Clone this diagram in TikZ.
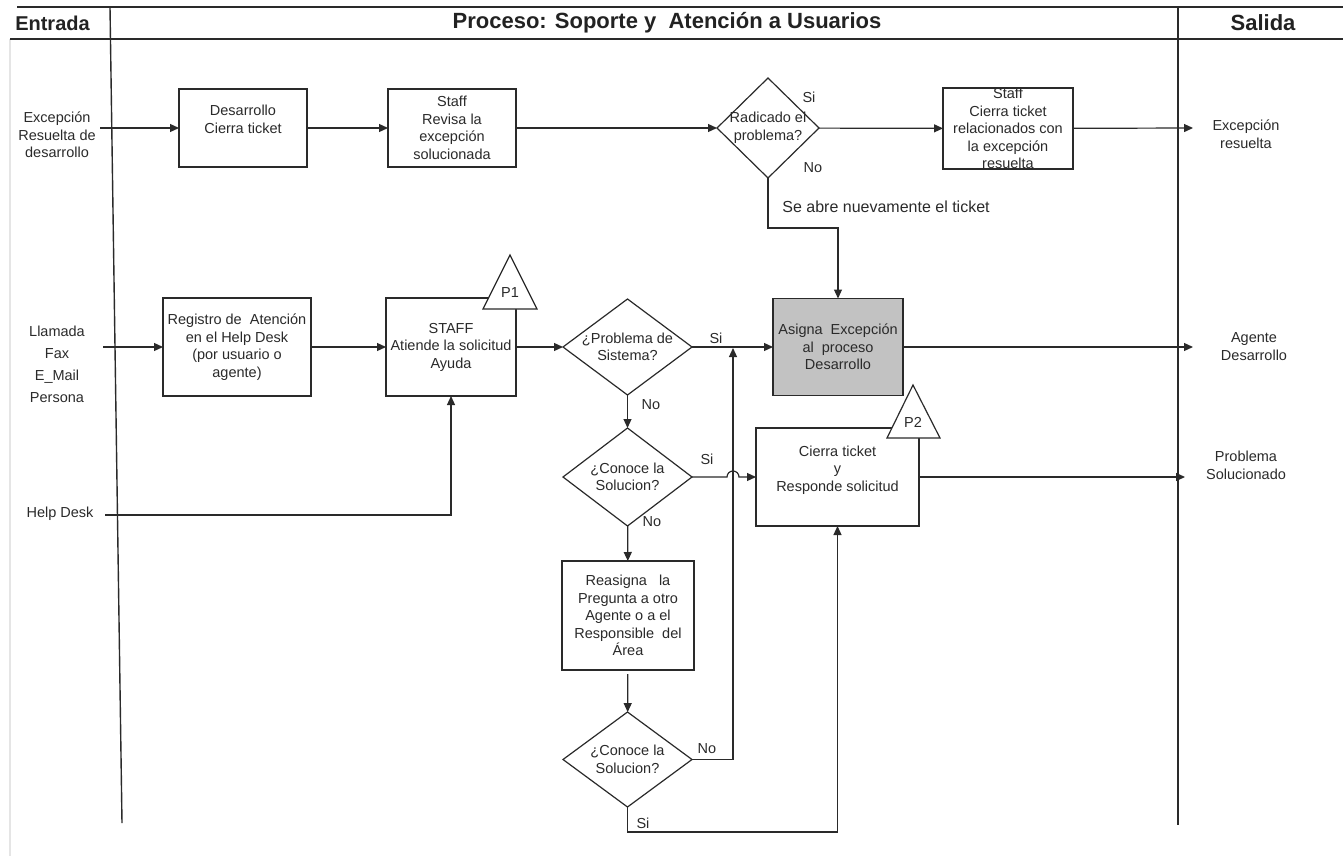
\documentclass[tikz,border=0pt]{standalone}
\usepackage{fontspec}
\setmainfont{Liberation Sans}
\usetikzlibrary{shapes.geometric,arrows.meta}
\definecolor{ink}{HTML}{2A2A2A}
\definecolor{boxgray}{HTML}{C2C2C2}
\begin{document}
\begin{tikzpicture}[x=1pt,y=-1pt,
    every node/.style={font=\fontsize{14.5}{17.5}\selectfont, text=ink, align=center, inner sep=0pt, outer sep=0pt},
    box/.style={draw=ink, line width=1.2pt, fill=white},
    decision/.style={draw=ink, line width=1.2pt, diamond, fill=white},
    arr/.style={draw=ink, line width=1.2pt, -{Triangle[length=9pt,width=8pt]}},
    frame/.style={draw=ink, line width=1.4pt},
    head/.style={font=\fontsize{22}{26}\selectfont\bfseries, text=ink!80!black}]
    \useasboundingbox (0,0) rectangle (1343,856);
    \draw[gray!20, line width=2pt] (10,39) -- (10,856);
    \draw[frame] (17,7) -- (1343,7);
    \draw[frame] (10,39) -- (1343,39);
    \draw[frame] (110,7) -- (122,823);
    \draw[frame] (1178,7) -- (1178,825);
    \node[head, font=\fontsize{20}{24}\selectfont\bfseries] (hin) at (52.5,23) {Entrada};
    \node[head] (hpro) at (667,23) {Proceso: Soporte y\ \ Atención a Usuarios};
    \node[head] (hout) at (1263,23) {Salida};

    \node (inexc) at (57,135) {Excepción\\Resuelta de\\desarrollo};
    \node[font=\fontsize{14.5}{22}\selectfont] (incan) at (57,364) {Llamada\\Fax\\E\_Mail\\Persona};
    \node (inhd) at (60,514) {Help Desk};
    \coordinate (inexca) at (100,128);
    \coordinate (incana) at (103,347);
    \coordinate (inhda) at (105,515);

    \node[box, minimum width=128, minimum height=78] (des) at (243,128) {Desarrollo\\Cierra ticket\\~};
    \node[box, minimum width=128, minimum height=78] (rev) at (452,128) {Staff\\Revisa la\\excepción\\solucionada};
    \node[decision, minimum width=102, minimum height=100] (rad) at (768,128) {};
    \node (radt) at (rad) {Radicado el\\problema?};
    \node[box, minimum width=130, minimum height=81] (cer) at (1008,128.5) {Staff\\Cierra ticket\\relacionados con\\la excepción\\resuelta};

    \node[box, minimum width=148, minimum height=98] (reg) at (237,347) {Registro de\ \ Atención\\en el Help Desk\\(por usuario o\\agente)};
    \node[box, minimum width=130, minimum height=98] (stf) at (451,347) {STAFF\\Atiende la solicitud\\Ayuda};
    \node[decision, minimum width=129, minimum height=96] (d1) at (627.5,347) {};
    \node (d1t) at (d1) {¿Problema de\\Sistema?};
    \node[box, fill=boxgray, minimum width=130, minimum height=97] (asg) at (838,347) {Asigna\ \ Excepción\\al\ \ proceso\\Desarrollo};

    \node[decision, minimum width=129, minimum height=98] (d2) at (627.5,477) {};
    \node (d2t) at (d2) {¿Conoce la\\Solucion?};
    \node[box, minimum width=163, minimum height=98] (cie) at (837.5,477) {Cierra ticket\\y\\Responde solicitud\\~};
    \node[box, minimum width=132, minimum height=109] (rea) at (628,615.5) {Reasigna\ \ \ la\\Pregunta a otro\\Agente o a el\\Responsible\ \ del\\Área};
    \node[decision, minimum width=129, minimum height=95] (d3) at (627.5,759.5) {};
    \node (d3t) at (d3) {¿Conoce la\\Solucion?};

    \coordinate (outexc) at (1193,128);
    \coordinate (outdes) at (1193,347);
    \coordinate (outsol) at (1185,477);
    \coordinate (junc) at (733,348);
    \node (outexct) at (1246,134) {Excepción\\resuelta};
    \node (outdest) at (1254,346.5) {Agente\\Desarrollo};
    \node (outsolt) at (1246,465.5) {Problema\\Solucionado};

    \draw[arr] (inexca) -- (des);
    \draw[arr] (des) -- (rev);
    \draw[arr] (rev) -- (rad);
    \draw[arr] (rad) -- (cer);
    \draw[arr] (cer) -- (outexc);
    \draw[arr] (rad.south) -- ++(0,50) -| (asg.north);
    \node[font=\fontsize{16}{19}\selectfont] (reopen) at (886,207) {Se abre nuevamente el ticket};
    \draw[arr] (incana) -- (reg);
    \draw[arr] (reg) -- (stf);
    \draw[arr] (stf) -- (d1);
    \draw[arr] (d1) -- (asg);
    \draw[arr] (asg) -- (outdes);
    \draw[arr] (inhda) -| (stf.south);
    \draw[arr] (d1) -- (d2);
    \draw[arr] (d2.east) -- ++(35,0) arc[start angle=180, end angle=0, radius=6pt] -- (cie.west);
    \draw[arr] (cie) -- (outsol);
    \draw[arr] (d2) -- (rea);
    \draw[arr, shorten <=4pt] (rea) -- (d3);
    \draw[arr] (d3.east) -| (junc);
    \draw[arr] (d3.south) -- ++(0,25) -| (cie.south);

    \node (radsi) at (809,97) {Si};
    \node (radno) at (813,168) {No};
    \node (d1si) at (716,338) {Si};
    \node (d1no) at (651,405) {No};
    \node (d2si) at (707,459) {Si};
    \node (d2no) at (652,522) {No};
    \node (d3no) at (707,749) {No};
    \node (d3si) at (643,823) {Si};

    \draw[box] (483,309) -- (510,255) -- (537,309) -- cycle;
    \node (p1) at (510,293) {P1};
    \draw[box] (887,438) -- (913,385) -- (940,438) -- cycle;
    \node (p2) at (913,422) {P2};
\end{tikzpicture}
\end{document}
